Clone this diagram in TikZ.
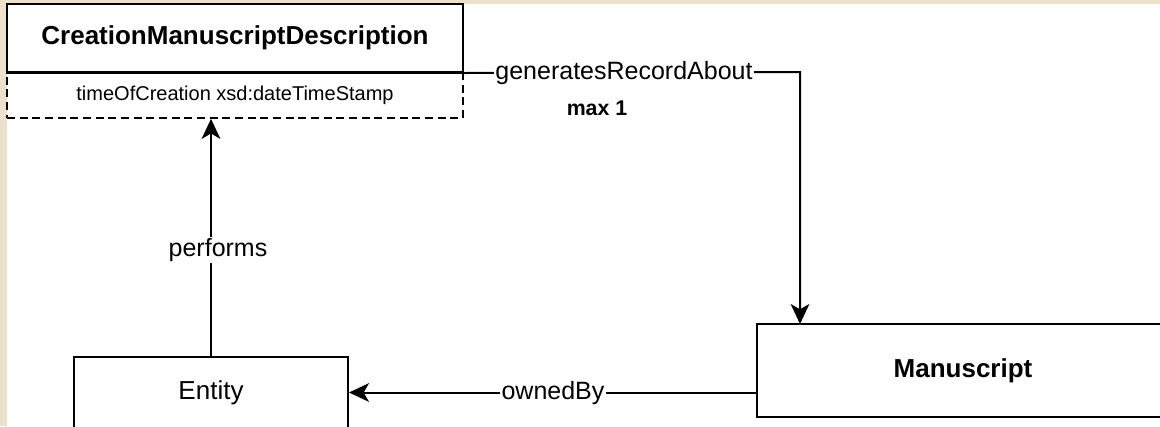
\documentclass[tikz,border=0pt]{standalone}
\usepackage{fontspec}
\setmainfont{Liberation Sans}
\usetikzlibrary{arrows.meta}
\definecolor{pagebeige}{RGB}{236,226,204}
\tikzset{
  umlbox/.style={draw=black, line width=1.5pt, fill=white, inner sep=0pt},
  attrbox/.style={draw=black, line width=1.2pt, dash pattern=on 6pt off 3.5pt, fill=white, inner sep=0pt},
  conn/.style={draw=black, line width=1.5pt, -{Stealth[length=15pt, width=14pt, inset=4pt]}},
  edgelabel/.style={fill=white, inner sep=1pt, font=\fontsize{18.75pt}{22pt}\selectfont},
  boldlabel/.style={inner sep=0pt, font=\fontsize{16pt}{19pt}\selectfont\bfseries}
}
\begin{document}
\begin{tikzpicture}[x=0.75pt, y=-0.75pt]
  % page background with the tinted margin
  \fill[pagebeige] (0,0) rectangle (1160,426);
  \fill[white] (7,4) rectangle (1160,426);
  \useasboundingbox (0,0) rectangle (1160,426);
  \clip (0,0) rectangle (1160,426);

  % class CreationManuscriptDescription with its attribute compartment
  \node[umlbox, minimum width=342pt, minimum height=51pt,
        font=\fontsize{19.5pt}{23pt}\selectfont\bfseries] (cmd) at (235,38)
        {CreationManuscriptDescription};
  \node[attrbox, minimum width=342pt, minimum height=34.5pt,
        font=\fontsize{15pt}{18pt}\selectfont] (attr) at (235,95)
        {timeOfCreation xsd:dateTimeStamp};
  \draw[line width=1.5pt] (cmd.south west) -- (cmd.south east);

  % class Entity
  \node[umlbox, minimum width=205.5pt, minimum height=53.25pt,
        font=\fontsize{19.5pt}{23pt}\selectfont] (ent) at (211,392.5) {Entity};

  % class Manuscript: its right side lies beyond the page edge
  \node[umlbox, draw=none, minimum width=307.5pt, minimum height=68.25pt,
        font=\fontsize{19.5pt}{23pt}\selectfont\bfseries] (man) at (963,370.5) {Manuscript};
  \draw[line width=1.5pt] (man.north east) -- (man.north west)
                       -- (man.south west) -- (man.south east);

  % generatesRecordAbout
  \coordinate (bend) at (800,72);
  \draw[conn] (cmd.south east) -- (bend) -- (bend |- man.north);
  \node[edgelabel] (gra) at (624,73) {generatesRecordAbout};
  \node[boldlabel] (maxone) at (597,108) {max 1};

  % performs
  \draw[conn] (ent.north) -- (ent.north |- attr.south);
  \node[edgelabel] (perf) at (218,250) {performs};

  % ownedBy
  \draw[conn] (ent.east -| man.west) -- (ent.east);
  \node[edgelabel] (owned) at (553,393) {ownedBy};
\end{tikzpicture}
\end{document}
